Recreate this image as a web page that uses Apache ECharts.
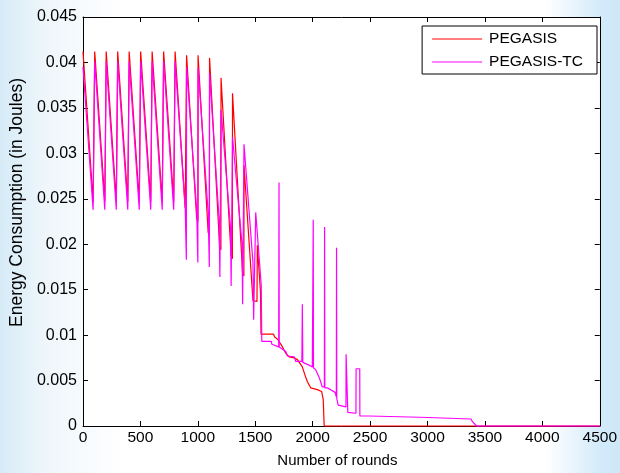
<!DOCTYPE html>
<html>
<head>
<meta charset="utf-8">
<script src="https://cdn.jsdelivr.net/npm/echarts@6/dist/echarts.min.js"></script>
<style>
html,body{margin:0;padding:0;}
body{width:620px;height:473px;overflow:hidden;
background:linear-gradient(90deg,#d6ebf7 0%,#eef6fb 7%,#ffffff 20%,#ffffff 88%,#d2eafa 97%,#cfe8f8 100%);}
#c{width:620px;height:473px;}
</style>
</head>
<body>
<div id="c"></div>
<script>
// PEGASIS (red)
const pegasisRounds = [
  0, 88, 101,
  102, 190, 201,
  202, 290, 301,
  302, 390, 401,
  402, 490, 501,
  502, 590, 601,
  602, 690, 701,
  702, 790, 801,
  802, 890, 901,
  902, 990, 1001,
  1002, 1090, 1101,
  1102, 1190, 1201,
  1202, 1290, 1301,
  1302, 1390, 1401,
  1402, 1480, 1515,
  1518, 1546, 1550,
  1660, 1668, 1690, 1708, 1737, 1766, 1795, 1838, 1867, 1910, 1933, 1953, 1983, 2040, 2078, 2092, 2099, 2100, 4500
];
const pegasisEnergy = [
  0.0412, 0.0247, 0.0246,
  0.0412, 0.0247, 0.0246,
  0.0412, 0.0247, 0.0246,
  0.0412, 0.0247, 0.0246,
  0.0412, 0.0247, 0.0246,
  0.0412, 0.0247, 0.0246,
  0.0412, 0.0247, 0.0246,
  0.0412, 0.0247, 0.0246,
  0.0412, 0.0240, 0.0238,
  0.0408, 0.0228, 0.0225,
  0.0408, 0.0213, 0.0210,
  0.0405, 0.0197, 0.0194,
  0.0383, 0.0187, 0.0184,
  0.0366, 0.0168, 0.0165,
  0.0287, 0.0138, 0.0137,
  0.0199, 0.0147, 0.0101,
  0.0101, 0.0098, 0.0096, 0.0093, 0.0087, 0.0080, 0.0076, 0.0075, 0.0073, 0.0065, 0.0056, 0.0049, 0.0042, 0.0040, 0.0038, 0.0029, 0.0029, 0, 0
];
// PEGASIS-TC (magenta)
const tcRounds = [
  0, 88, 101,
  102, 190, 201,
  202, 290, 301,
  302, 390, 401,
  402, 490, 501,
  502, 590, 601,
  602, 690, 701,
  702, 790, 801,
  802, 890, 899, 900,
  902, 990, 999, 1000,
  1002, 1090, 1099, 1100,
  1102, 1185, 1192, 1201,
  1202, 1285, 1290, 1300,
  1302, 1385, 1390, 1400,
  1402, 1480, 1486, 1502,
  1504, 1552, 1557,
  1640, 1644, 1704, 1707, 1709, 1723, 1766, 1780, 1840, 1853, 1906, 1910, 1914, 1925, 1968, 1997, 2003, 2005, 2007,
  2026, 2055, 2069, 2083, 2102, 2104, 2106, 2127, 2156, 2195, 2206, 2208, 2210, 2222, 2290, 2291, 2305, 2306,
  2377, 2378, 2410, 2411, 2488, 2494, 2936, 2950, 3379, 3390, 3427, 4500
];
const tcEnergy = [
  0.0395, 0.0238, 0.0237,
  0.0401, 0.0238, 0.0237,
  0.0401, 0.0238, 0.0237,
  0.0401, 0.0238, 0.0237,
  0.0401, 0.0238, 0.0237,
  0.0401, 0.0238, 0.0237,
  0.0401, 0.0238, 0.0237,
  0.0401, 0.0238, 0.0237,
  0.0401, 0.0240, 0.0238, 0.0183,
  0.0395, 0.0238, 0.0236, 0.0180,
  0.0394, 0.0235, 0.0233, 0.0175,
  0.0388, 0.0228, 0.0164, 0.0164,
  0.0348, 0.0218, 0.0154, 0.0154,
  0.0318, 0.0200, 0.0134, 0.0134,
  0.0310, 0.0180, 0.0117, 0.0117,
  0.0235, 0.0155, 0.0093,
  0.0093, 0.0090, 0.0087, 0.0268, 0.0087, 0.0086, 0.0082, 0.0077, 0.0076, 0.0071, 0.0071, 0.0134, 0.0070, 0.0069, 0.0067, 0.0065, 0.0065, 0.0227, 0.0064,
  0.0062, 0.0054, 0.0049, 0.0043, 0.0043, 0.0219, 0.0042, 0.0042, 0.0040, 0.0037, 0.0032, 0.0196, 0.0030, 0.0023, 0.0021, 0.0079, 0.0079, 0.0015,
  0.0014, 0.0063, 0.0063, 0.0011, 0.0011, 0.00096, 0.00096, 0.00077, 0.00077, 0.0005, 0, 0
];
const seriesNames = ['PEGASIS', 'PEGASIS-TC'];
const xAxisName = 'Number of rounds';
const yAxisName = 'Energy Consumption (in Joules)';

const zip = (xs, ys) => xs.map((x, i) => [x, ys[i]]);
const font = "'Liberation Sans', Arial, sans-serif";
const chart = echarts.init(document.getElementById('c'), null, {renderer: 'canvas'});
const lineStyleAxis = {color: '#000', width: 1};
chart.setOption({
  backgroundColor: 'transparent',
  animation: false,
  textStyle: {fontFamily: font},
  grid: {left: 83, right: 18, top: 17, bottom: 47, show: true, backgroundColor: '#ffffff', borderWidth: 0},
  legend: {
    data: seriesNames,
    orient: 'vertical',
    right: 23, top: 26,
    width: 172,
    backgroundColor: '#ffffff',
    borderColor: '#000', borderWidth: 1,
    padding: [5, 14, 4, 10],
    itemWidth: 50, itemHeight: 1,
    itemGap: 7,
    icon: 'rect',
    textStyle: {fontFamily: font, fontSize: 15.5, color: '#000', padding: [0, 0, 0, 2]}
  },
  xAxis: [{
    type: 'value', min: 0, max: 4500, interval: 500,
    name: xAxisName, nameLocation: 'middle', nameGap: 27,
    nameTextStyle: {fontFamily: font, fontSize: 15, color: '#000', padding: [0, 8, 0, 0]},
    axisLine: {show: true, onZero: false, lineStyle: lineStyleAxis},
    axisTick: {show: true, inside: true, length: 5, lineStyle: lineStyleAxis},
    axisLabel: {fontFamily: font, fontSize: 15.5, color: '#000', margin: 4, formatter: v => String(v)},
    splitLine: {show: false}
  }, {
    type: 'value', min: 0, max: 4500, interval: 500, position: 'top',
    axisLine: {show: true, onZero: false, lineStyle: lineStyleAxis},
    axisTick: {show: true, inside: true, length: 5, lineStyle: lineStyleAxis},
    axisLabel: {show: false}, splitLine: {show: false}
  }],
  yAxis: [{
    type: 'value', min: 0, max: 0.045, interval: 0.005,
    name: yAxisName, nameLocation: 'middle', nameGap: 55,
    nameTextStyle: {fontFamily: font, fontSize: 17.5, color: '#000', padding: [0, 0, 0, 38]},
    axisLine: {show: true, onZero: false, lineStyle: lineStyleAxis},
    axisTick: {show: true, inside: true, length: 5, lineStyle: lineStyleAxis},
    axisLabel: {fontFamily: font, fontSize: 16, color: '#000', margin: 6,
      formatter: v => String(Math.round(v * 1000) / 1000)},
    splitLine: {show: false}
  }, {
    type: 'value', min: 0, max: 0.045, interval: 0.005, position: 'right',
    axisLine: {show: true, onZero: false, lineStyle: lineStyleAxis},
    axisTick: {show: true, inside: true, length: 5, lineStyle: lineStyleAxis},
    axisLabel: {show: false}, splitLine: {show: false}
  }],
  series: [{
    name: seriesNames[0], type: 'line', showSymbol: false, symbol: 'none',
    data: zip(pegasisRounds, pegasisEnergy),
    color: '#ff0000',
    lineStyle: {color: '#ff0000', width: 1.2},
    clip: false, z: 3
  }, {
    name: seriesNames[1], type: 'line', showSymbol: false, symbol: 'none',
    data: zip(tcRounds, tcEnergy),
    color: '#ff00ff',
    lineStyle: {color: '#ff00ff', width: 1.2},
    clip: false, z: 4
  }]
});
</script>
</body>
</html>
